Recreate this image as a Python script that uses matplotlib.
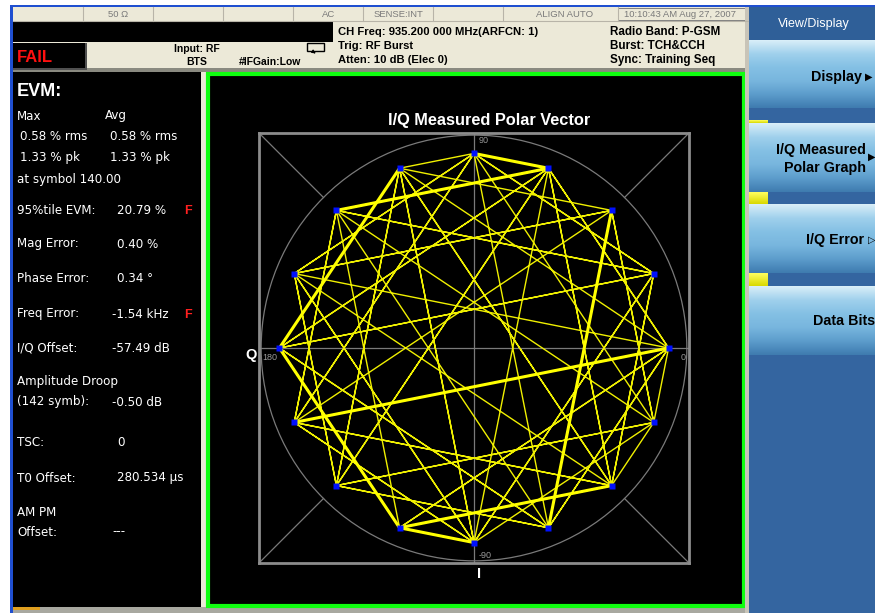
import numpy as np
import matplotlib
matplotlib.use("Agg")
import matplotlib.pyplot as plt
from matplotlib.patches import Rectangle, Circle
from matplotlib.colors import LinearSegmentedColormap

plt.rcParams['font.family'] = ['Liberation Sans', 'DejaVu Sans']

# --- data -------------------------------------------------------------
# 16 constellation positions (degrees), 3pi/8-rotated 8PSK
point_angles = [0, 22.5, 45, 67.5, 90, 112.5, 135, 157.5,
                180, 202.5, 225, 247.5, 270, 292.5, 315, 337.5]
point_radius = 0.905

# measured symbol sequence (index into point_angles)
symbol_seq = [4, 1, 14, 11, 8, 11, 14, 9, 12, 7, 2, 13, 0, 5, 10, 15, 6, 3,
              0, 11, 12, 1, 6, 9, 14, 3, 10, 7, 4, 13, 8, 11, 14, 15, 2, 13,
              10, 5, 8, 3, 6, 3, 12, 7, 0, 9, 4, 5, 14, 1, 8, 11, 12, 15, 10,
              13, 2, 7, 14, 11, 0, 3, 6, 1, 4, 9, 2, 13, 6, 11, 8, 1, 12, 5,
              2, 15, 4, 7, 10, 3, 8, 13, 0, 9, 6, 3, 14, 5, 12, 9, 0, 15]
# transitions repeated many times (training sequence) -> drawn heavier
training_runs = [[6, 3, 4], [2, 13], [8, 11, 14], [11, 12], [9, 0], [5, 8]]

axis_labels = ["90", "0", "180", "-90"]

status_cells = ["50 Ω", "AC", "SENSE:INT", "ALIGN AUTO", "10:10:43 AM Aug 27, 2007"]
setup_left = ["CH Freq: 935.200 000 MHz(ARFCN: 1)", "Trig: RF Burst", "Atten: 10 dB (Elec 0)"]
setup_right = ["Radio Band: P-GSM", "Burst: TCH&CCH", "Sync: Training Seq"]

evm_max = ["0.58 % rms", "1.33 % pk"]
evm_avg = ["0.58 % rms", "1.33 % pk"]
result_labels = ["95%tile EVM:", "Mag Error:", "Phase Error:", "Freq Error:",
                 "I/Q Offset:", "(142 symb):", "TSC:", "T0 Offset:", "Offset:"]
result_values = ["20.79 %", "0.40 %", "0.34 °", "-1.54 kHz", "-57.49 dB",
                 "-0.50 dB", "0", "280.534 µs", "---"]
result_fail = [True, False, False, True, False, False, False, False, False]

softkeys = ["Display", "I/Q Measured\nPolar Graph", "I/Q Error", "Data Bits"]

# --- figure / screen chrome ---------------------------------------------
fig = plt.figure(figsize=(8.75, 6.13), dpi=100)
fig.patch.set_facecolor('white')
ui = fig.add_axes([0, 0, 1, 1])
ui.set_xlim(0, 875)
ui.set_ylim(613, 0)
ui.axis('off')


def box(x0, y0, x1, y1, color, **kw):
    ui.add_patch(Rectangle((x0, y0), x1 - x0, y1 - y0, facecolor=color,
                           edgecolor=kw.pop('ec', 'none'), **kw))


beige = '#ece9d8'
box(10, 5, 875, 7, '#1f4fd0')          # window border
box(10, 5, 13, 613, '#1f4fd0')
box(13, 7, 748, 72, beige)
box(13, 21, 333, 42, 'black')
box(13, 68, 748, 72, '#8a8a80')
box(13, 43, 87, 70, '#505050')
box(13, 43, 85, 68, 'black')

# status bar cells
for xd in [83, 153, 223, 293, 363, 433, 503, 618]:
    ui.plot([xd, xd], [7, 21], color='#b8b4a8', lw=0.8)
ui.plot([13, 748], [21, 21], color='#b8b4a8', lw=0.8)
ui.add_patch(Rectangle((618, 8), 127, 12, fill=False, ec='#808080', lw=0.7))
for txt, x, ha in zip(status_cells, [118, 335, 398, 565, 680],
                      ['center', 'right', 'center', 'center', 'center']):
    ui.text(x, 14.5, txt, color='#7a7a7a', fontsize=6.8, ha=ha, va='center')

ui.text(17, 57, "FAIL", color='#ff1010', fontsize=12, fontweight='bold', va='center')
ui.text(197, 49, "Input: RF", fontsize=7.5, fontweight='bold', ha='center', va='center')
ui.text(197, 62, "BTS", fontsize=7.5, fontweight='bold', ha='center', va='center')
ui.text(270, 62, "#IFGain:Low", fontsize=7.5, fontweight='bold', ha='center', va='center')
ui.add_patch(Rectangle((307, 43), 17, 8, fill=False, ec='black', lw=1.0))
ui.annotate("", xy=(318, 55), xytext=(312, 51),
            arrowprops=dict(arrowstyle='-|>', color='black', lw=0.8,
                            mutation_scale=5))
for i, txt in enumerate(setup_left):
    ui.text(338, 35 + 14 * i, txt, fontsize=8.1, fontweight='bold', va='baseline')
for i, txt in enumerate(setup_right):
    ui.text(610, 35 + 14 * i, txt, fontsize=8.4, fontweight='bold', va='baseline')

# left results panel
box(13, 72, 201, 607, 'black')
box(201, 72, 206, 607, beige)
box(13, 607, 748, 613, '#a8a8a0')
box(13, 607, 40, 610, '#e0a020')

wt = dict(color='white', fontsize=8.6, va='baseline', family=['DejaVu Sans'])
b = 4.5   # centre -> baseline offset in pixels
ui.text(17, 90 + 6, "EVM:", color='white', fontsize=13, fontweight='bold', va='baseline')
ui.text(17, 115 + b, "Max", **wt)
ui.text(105, 115 + b, "Avg", **wt)
for i in range(2):
    ui.text(20, 135 + 22 * i + b, evm_max[i], **wt)
    ui.text(110, 135 + 22 * i + b, evm_avg[i], **wt)
ui.text(17, 179 + b, "at symbol 140.00", **wt)
ui.text(17, 381 + b, "Amplitude Droop", **wt)
ui.text(17, 511 + b, "AM PM", **wt)
row_y = [210, 243, 278, 313, 347, 401, 442, 477, 531]
for lab, val, bad, y in zip(result_labels, result_values, result_fail, row_y):
    ui.text(17, y + b, lab, **wt)
    ui.text(112 if val.startswith('-') else 117, y + b, val, **wt)
    if bad:
        ui.text(184, y + b, "F", color='#ff2020', fontsize=9, fontweight='bold', va='baseline')

# graph window
box(206, 72, 745, 607, 'black')
ui.add_patch(Rectangle((207.5, 73.5), 536, 532, fill=False, ec='#10ff10', lw=3))
box(745, 7, 749, 613, '#c8c4b8')

# softkey panel
box(749, 7, 875, 613, '#3465a0')
box(749, 7, 875, 40, '#2f5f98')
ui.text(814, 24, "View/Display", color='white', fontsize=9, ha='center', va='center')
key_cmap = LinearSegmentedColormap.from_list(
    'key', ['#d8eef8', '#9fd0ec', '#84c0e4', '#78b6de', '#5d9dcc', '#3f7cb0'])
grad = np.linspace(0, 1, 64).reshape(-1, 1)
key_spans = [(40, 108), (123, 192), (204, 273), (286, 355)]
for (y0, y1) in key_spans:
    ui.imshow(grad, cmap=key_cmap, extent=(749, 875, y1, y0), aspect='auto',
              interpolation='bilinear', zorder=2)
ytab = LinearSegmentedColormap.from_list('tab', ['#ffff60', '#d8d800'])
for (y0, y1) in [(120, 123), (192, 204), (273, 286)]:
    ui.imshow(grad, cmap=ytab, extent=(749, 768, y1, y0), aspect='auto', zorder=3)
kt = dict(color='black', fontsize=10.3, fontweight='bold', ha='right', va='center', zorder=4)
ui.text(862, 77, softkeys[0], **kt)
ui.text(872, 77, "▶", color='black', fontsize=7, ha='right', va='center',
        family=['DejaVu Sans'], zorder=4)
ui.text(866, 159, softkeys[1], linespacing=1.3, **kt)
ui.text(875, 157, "▶", color='black', fontsize=7, ha='right', va='center',
        family=['DejaVu Sans'], zorder=4)
ui.text(864, 240, softkeys[2], **kt)
ui.text(875, 240, "▷", color='black', fontsize=7, ha='right', va='center',
        family=['DejaVu Sans'], zorder=4)
ui.text(875, 321, softkeys[3], **kt)
ui.set_xlim(0, 875)
ui.set_ylim(613, 0)

# titles around the polar box
ui.text(489, 120, "I/Q Measured Polar Vector", color='white', fontsize=11.8,
        fontweight='bold', ha='center', va='center')
ui.text(251, 355, "Q", color='white', fontsize=10.5, fontweight='bold', ha='center', va='center')
ui.text(479, 574, "I", color='white', fontsize=10.5, fontweight='bold', ha='center', va='center')

# --- polar vector plot ---------------------------------------------------
ax = fig.add_axes([259 / 875, (613 - 563) / 613, 430 / 875, 430 / 613])
ax.set_facecolor('black')
ax.set_xlim(-1, 1)
ax.set_ylim(-1, 1)
ax.set_xticks([])
ax.set_yticks([])
for sp in ax.spines.values():
    sp.set_color('#8c8c8c')
    sp.set_linewidth(2)

grid_c = '#7a7a7a'
rc = 0.99
ax.add_patch(Circle((0, 0), rc, fill=False, ec=grid_c, lw=0.9))
ax.plot([-1, 1], [0, 0], color=grid_c, lw=0.9)
ax.plot([0, 0], [-1, 1], color=grid_c, lw=0.9)
for sx in (-1, 1):
    for sy in (-1, 1):
        ax.plot([sx, sx * rc * 0.7071], [sy, sy * rc * 0.7071], color=grid_c, lw=0.9)

lab_c = '#9a9a9a'
ax.text(0.02, 0.985, axis_labels[0], color=lab_c, fontsize=6.5, ha='left', va='top')
ax.text(0.985, -0.025, axis_labels[1], color=lab_c, fontsize=6.5, ha='right', va='top')
ax.text(-0.985, -0.025, axis_labels[2], color=lab_c, fontsize=6.5, ha='left', va='top')
ax.text(0.02, -0.985, axis_labels[3], color=lab_c, fontsize=6.5, ha='left', va='bottom')

ang = np.deg2rad(np.array(point_angles))
px = point_radius * np.cos(ang)
py = point_radius * np.sin(ang)
seq = np.array(symbol_seq)
ax.plot(px[seq], py[seq], color='#f0f000', lw=1.0, solid_joinstyle='miter')
for run in training_runs:
    r = np.array(run)
    ax.plot(px[r], py[r], color='#ffff00', lw=2.2, solid_capstyle='butt')
ax.plot(px, py, 's', color='#0010ff', ms=4.2, mec='none', ls='none')

fig.savefig("out.png", dpi=100, facecolor=fig.get_facecolor())
